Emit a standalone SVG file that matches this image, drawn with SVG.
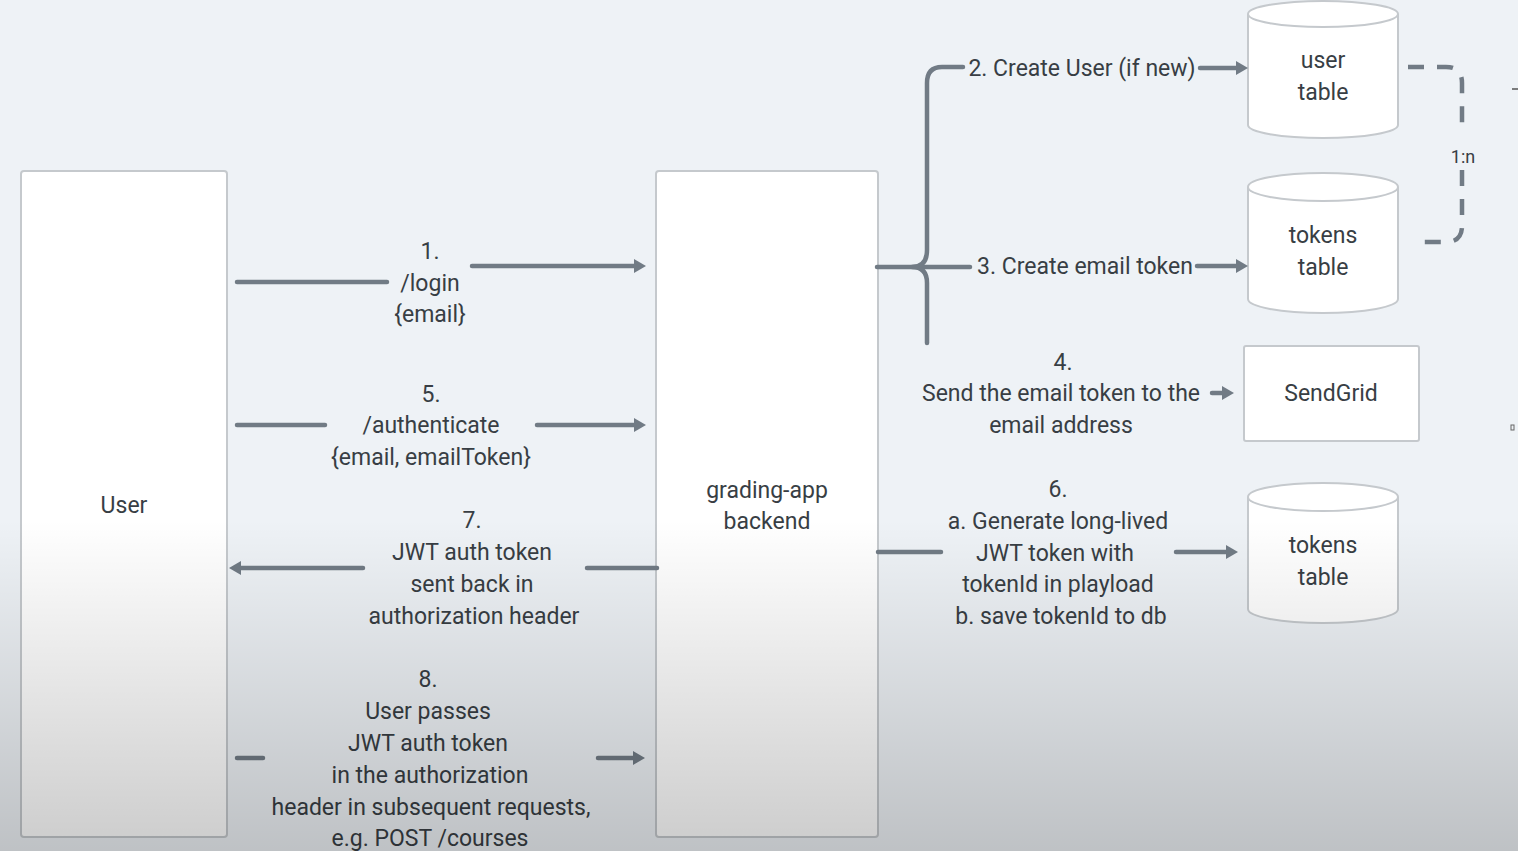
<svg xmlns="http://www.w3.org/2000/svg" width="1518" height="851" viewBox="0 0 1518 851">
<defs>
<style>
.t{font-family:Roboto,"Liberation Sans",sans-serif;font-size:23px;font-weight:400;fill:#383e44;text-anchor:middle;dominant-baseline:central}
.box{fill:#ffffff;stroke:#c5c9cd;stroke-width:2}
.ln{fill:none;stroke:#717b85;stroke-width:4.5;stroke-linecap:round;stroke-linejoin:round}
.ar{marker-end:url(#ah)}
.dash{stroke-dasharray:16 13;stroke-linecap:butt}
</style>
<marker id="ah" markerUnits="userSpaceOnUse" markerWidth="14" markerHeight="16" refX="3" refY="7" orient="auto">
<path d="M0,0 L12,7 L0,14 z" fill="#717b85"/>
</marker>
<linearGradient id="shade" x1="0" y1="0" x2="0" y2="1">
<stop offset="0" stop-color="#000" stop-opacity="0"/>
<stop offset="1" stop-color="#000" stop-opacity="0.2"/>
</linearGradient>
</defs>
<rect x="0" y="0" width="1518" height="851" fill="#eef2f6"/>

<g id="user">
<rect class="box" x="21" y="171" width="206" height="666" rx="3"/>
<text class="t" x="124" y="505">User</text>
</g>

<g id="backend">
<rect class="box" x="656" y="171" width="222" height="666" rx="3"/>
<text class="t" x="767" y="490">grading-app</text>
<text class="t" x="767" y="521">backend</text>
</g>

<g id="user-table">
<path class="box" d="M1248 14 V125 A75 13 0 0 0 1398 125 V14 A75 13 0 0 0 1248 14 Z"/>
<path class="box" fill="none" d="M1248 14 A75 13 0 0 0 1398 14"/>
<text class="t" x="1323" y="60">user</text>
<text class="t" x="1323" y="92">table</text>
</g>

<g id="tokens-table-1">
<path class="box" d="M1248 187 V299 A75 14 0 0 0 1398 299 V187 A75 14 0 0 0 1248 187 Z"/>
<path class="box" fill="none" d="M1248 187 A75 14 0 0 0 1398 187"/>
<text class="t" x="1323" y="235">tokens</text>
<text class="t" x="1323" y="267">table</text>
</g>

<g id="sendgrid">
<rect class="box" x="1244" y="346" width="175" height="95" rx="2"/>
<text class="t" x="1331" y="393">SendGrid</text>
</g>

<g id="tokens-table-2">
<path class="box" d="M1248 497 V609 A75 14 0 0 0 1398 609 V497 A75 14 0 0 0 1248 497 Z"/>
<path class="box" fill="none" d="M1248 497 A75 14 0 0 0 1398 497"/>
<text class="t" x="1323" y="545">tokens</text>
<text class="t" x="1323" y="577">table</text>
</g>

<g id="connectors">
<path class="ln" d="M237 282 H387"/>
<path class="ln ar" d="M472 266 H637"/>
<path class="ln" d="M237 425 H325"/>
<path class="ln ar" d="M537 425 H637"/>
<path class="ln" d="M657 568 H587"/>
<path class="ln ar" d="M363 568 H238"/>
<path class="ln" d="M237 758 H263"/>
<path class="ln ar" d="M598 758 H636"/>
<path class="ln" d="M878 552 H941"/>
<path class="ln ar" d="M1176 552 H1229"/>
<path class="ln ar" d="M1212 393 H1225"/>
<path class="ln" d="M877 267 H970"/>
<path class="ln" d="M963 67 H942 Q927 67 927 83 V250 Q927 267 912 267 Q927 267 927 283 V343"/>
<path class="ln ar" d="M1200 68 H1239"/>
<path class="ln ar" d="M1197 266 H1239"/>
<path class="ln dash" d="M1408 67 H1446 Q1462 67 1462 83 V132"/>
<path class="ln dash" d="M1462 170 V226 Q1462 242 1446 242 H1421"/>
</g>

<g id="labels">
<text class="t" x="430" y="251">1.</text>
<text class="t" x="430" y="283">/login</text>
<text class="t" x="430" y="314">{email}</text>
<text class="t" x="431" y="394">5.</text>
<text class="t" x="431" y="425">/authenticate</text>
<text class="t" x="431" y="457">{email, emailToken}</text>
<text class="t" x="472" y="520">7.</text>
<text class="t" x="472" y="552">JWT auth token</text>
<text class="t" x="472" y="584">sent back in</text>
<text class="t" x="474" y="616">authorization header</text>
<text class="t" x="428" y="679">8.</text>
<text class="t" x="428" y="711">User passes</text>
<text class="t" x="428" y="743">JWT auth token</text>
<text class="t" x="430" y="775">in the authorization</text>
<text class="t" x="431" y="807">header in subsequent requests,</text>
<text class="t" x="430" y="838">e.g. POST /courses</text>
<text class="t" x="1082" y="68">2. Create User (if new)</text>
<text class="t" x="1085" y="266">3. Create email token</text>
<text class="t" x="1463" y="156" style="font-size:18px">1:n</text>
<text class="t" x="1063" y="362">4.</text>
<text class="t" x="1061" y="393">Send the email token to the</text>
<text class="t" x="1061" y="425">email address</text>
<text class="t" x="1058" y="489">6.</text>
<text class="t" x="1058" y="521">a. Generate long-lived</text>
<text class="t" x="1055" y="553">JWT token with</text>
<text class="t" x="1058" y="584">tokenId in playload</text>
<text class="t" x="1061" y="616">b. save tokenId to db</text>
</g>

<path d="M1512 89 H1518" stroke="#555" stroke-width="1.5"/>
<rect x="1511" y="425" width="3" height="5" fill="none" stroke="#666" stroke-width="1"/>
<rect x="0" y="520" width="1518" height="331" fill="url(#shade)"/>
</svg>
